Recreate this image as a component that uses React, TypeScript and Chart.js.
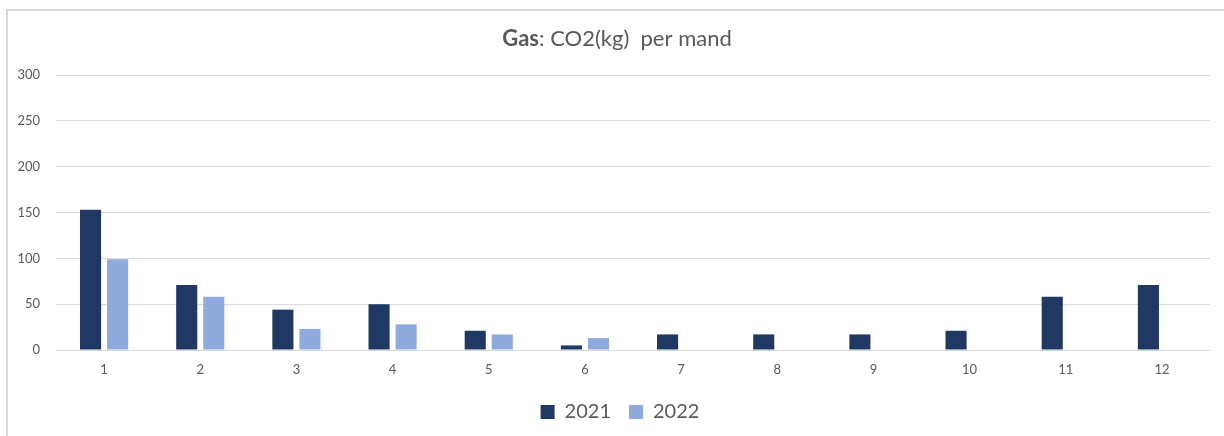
import React, { useEffect, useRef } from "react";
import { Chart, registerables } from "chart.js";

Chart.register(...registerables);

const months = ["1", "2", "3", "4", "5", "6", "7", "8", "9", "10", "11", "12"];
const values2021 = [153, 71, 44, 50, 21, 5, 17, 17, 17, 21, 58, 71];
const values2022 = [99, 58, 23, 28, 17, 13, null, null, null, null, null, null];
const yTicks = [0, 50, 100, 150, 200, 250, 300];
const titleBold = "Gas";
const titleRest = ": CO2(kg)  per mand";

const FONT = "Lato, 'Open Sans', sans-serif";

const titlePlugin = {
  id: "mixedTitle",
  afterLayout(chart: any) {
    const lg = chart.legend;
    if (lg) {
      lg.left += 15;
      lg.right += 15;
    }
  },
  afterDraw(chart: any) {
    const ctx = chart.ctx;
    ctx.save();
    ctx.textBaseline = "middle";
    ctx.fillStyle = "#595959";
    ctx.font = `bold 22px ${FONT}`;
    const w1 = ctx.measureText(titleBold).width;
    ctx.font = `22px ${FONT}`;
    const w2 = ctx.measureText(titleRest).width;
    const cx = chart.width / 2 + 5;
    const x0 = cx - (w1 + w2) / 2;
    const y = 39;
    ctx.textAlign = "left";
    ctx.font = `bold 22px ${FONT}`;
    ctx.fillText(titleBold, x0, y);
    ctx.font = `22px ${FONT}`;
    ctx.fillText(titleRest, x0 + w1, y);
    ctx.restore();
  },
};

export default function App() {
  const ref = useRef<HTMLCanvasElement>(null);
  useEffect(() => {
    const chart = new Chart(ref.current!, {
      type: "bar",
      data: {
        labels: months,
        datasets: [
          {
            label: "2021",
            data: values2021,
            backgroundColor: "#203864",
            categoryPercentage: 0.5625,
            barPercentage: 0.78,
          },
          {
            label: "2022",
            data: values2022 as any,
            backgroundColor: "#8FAADC",
            categoryPercentage: 0.5625,
            barPercentage: 0.78,
          },
        ],
      },
      options: {
        animation: false,
        responsive: false,
        maintainAspectRatio: false,
        layout: { padding: { left: 0, right: 14, top: 75, bottom: 4 } },
        plugins: {
          title: { display: false },
          tooltip: { enabled: false },
          legend: {
            position: "bottom",
            labels: {
              font: { family: FONT, size: 20 },
              color: "#595959",
              boxWidth: 14,
              boxHeight: 14,
              padding: 18,
            },
          },
        },
        scales: {
          x: {
            grid: { display: false, drawTicks: false },
            border: { display: false },
            ticks: {
              font: { family: FONT, size: 13 },
              color: "#595959",
              padding: 12,
            },
            afterFit: (s: any) => {
              s.height = 34;
            },
          },
          y: {
            min: 0,
            max: 300,
            afterBuildTicks: (s: any) => {
              s.ticks = yTicks.map((v) => ({ value: v }));
            },
            grid: { color: "#d9d9d9", lineWidth: 1, drawTicks: false },
            border: { display: false },
            ticks: {
              font: { family: FONT, size: 13 },
              color: "#595959",
              padding: 16,
            },
            afterFit: (s: any) => {
              s.width = 56;
            },
          },
        },
      },
      plugins: [titlePlugin],
    });
    return () => chart.destroy();
  }, []);

  return (
    <div
      style={{
        position: "fixed",
        left: 0,
        top: 0,
        width: 1224,
        height: 436,
        background: "#fff",
        overflow: "hidden",
      }}
    >
      <div
        style={{
          position: "absolute",
          left: 6,
          top: 9,
          width: 1230,
          height: 440,
          borderLeft: "2px solid #d9d9d9",
          borderTop: "2px solid #d9d9d9",
        }}
      />
      <canvas
        ref={ref}
        width={1224}
        height={436}
        style={{ position: "absolute", left: 0, top: 0, width: 1224, height: 436 }}
      />
    </div>
  );
}
